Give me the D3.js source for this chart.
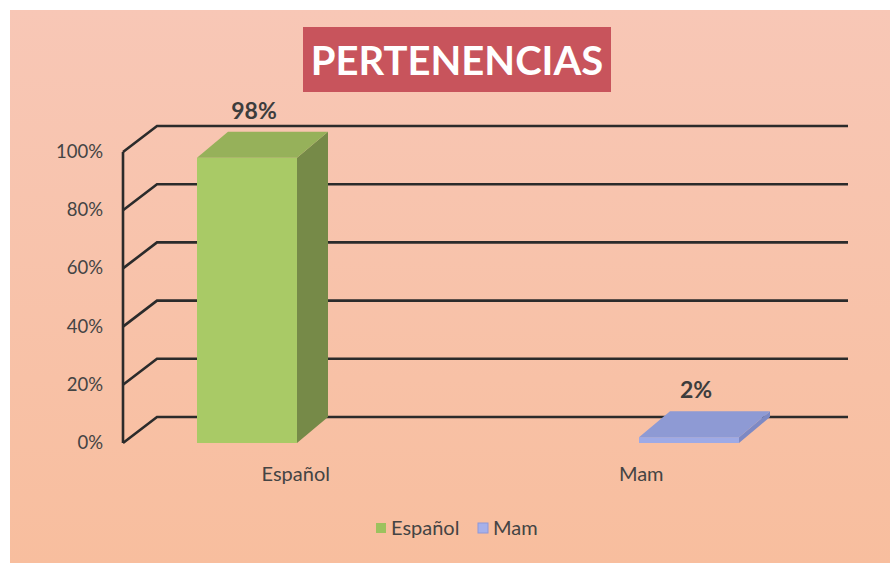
<!DOCTYPE html>
<html>
<head>
<meta charset="utf-8">
<script src="https://cdn.jsdelivr.net/npm/d3@7"></script>
<style>
  html, body { margin: 0; padding: 0; background: #ffffff; }
  svg { display: block; }
</style>
</head>
<body>
<div id="chart"></div>
<script>
// data
const categories = ['Español', 'Mam'];
const values = [0.98, 0.02];
const valueLabels = ['98%', '2%'];
const tickValues = [0, 0.2, 0.4, 0.6, 0.8, 1];
const tickLabels = ['0%', '20%', '40%', '60%', '80%', '100%'];
const colors = {
  'Español': { front: '#a9ca66', top: '#96b15a', side: '#768a48', swatch: '#9cc25e' },
  'Mam': { front: '#9eaae6', top: '#8e9ad4', side: '#7d89c4', swatch: '#a6b0ea' }
};

const W = 890, H = 563;
const svg = d3.select('#chart').append('svg')
  .attr('width', W)
  .attr('height', H);

// background gradient
const defs = svg.append('defs');
const bg = defs.append('linearGradient')
  .attr('id', 'bg')
  .attr('x1', 0).attr('y1', 0).attr('x2', 0).attr('y2', 1);
bg.append('stop').attr('offset', '0%').attr('stop-color', '#f8c7b6');
bg.append('stop').attr('offset', '100%').attr('stop-color', '#f8be9e');

svg.append('rect')
  .attr('x', 10).attr('y', 10)
  .attr('width', W - 10).attr('height', H - 10)
  .attr('fill', 'url(#bg)');

// title
svg.append('rect')
  .attr('x', 303).attr('y', 27)
  .attr('width', 308).attr('height', 65)
  .attr('fill', '#c8545c');
svg.append('text')
  .attr('x', 457).attr('y', 75)
  .attr('text-anchor', 'middle')
  .attr('fill', '#ffffff')
  .style('font-family', 'Lato, "Open Sans", sans-serif')
  .style('font-size', '40px')
  .style('font-weight', 'bold')
  .text('PERTENENCIAS');

// 3d frame: front plane and back wall offset
const depthX = 34, depthY = -26;
const y = d3.scaleLinear().domain([0, 1]).range([443, 152]);
const xFront = d3.scaleBand().domain(categories).range([123, 814]);
const xBar = d3.scalePoint().domain(categories).range([247, 689]);
const wallRight = 848;

const ink = '#2b2b2b';
const grid = svg.append('g');
grid.selectAll('path.grid')
  .data(tickValues)
  .join('path')
  .attr('class', 'grid')
  .attr('fill', 'none')
  .attr('stroke', ink)
  .attr('stroke-width', 2.6)
  .attr('d', d => `M${xFront.range()[0]},${y(d)}L${xFront.range()[0] + depthX},${y(d) + depthY}L${wallRight},${y(d) + depthY}`);
grid.append('line')
  .attr('x1', xFront.range()[0]).attr('x2', xFront.range()[0])
  .attr('y1', y(0)).attr('y2', y(1))
  .attr('stroke', ink)
  .attr('stroke-width', 2.6);

// tick labels
svg.append('g').selectAll('text')
  .data(tickValues)
  .join('text')
  .attr('x', 103)
  .attr('y', d => y(d) + 6)
  .attr('text-anchor', 'end')
  .attr('fill', '#444')
  .style('font-family', 'Lato, "Open Sans", sans-serif')
  .style('font-size', '18.5px')
  .text((d, i) => tickLabels[i]);

// bars
const barW = 100, barDX = 31, barDY = -26;
const bars = svg.append('g').selectAll('g')
  .data(categories.map((c, i) => ({ c, v: values[i], label: valueLabels[i] })))
  .join('g');

bars.each(function (d) {
  const g = d3.select(this);
  const x0 = xBar(d.c) - barW / 2, x1 = x0 + barW;
  const yb = y(0), yt = y(d.v);
  const col = colors[d.c];
  // side
  g.append('path')
    .attr('fill', col.side)
    .attr('d', `M${x1},${yt}L${x1 + barDX},${yt + barDY}L${x1 + barDX},${yb + barDY}L${x1},${yb}Z`);
  // front
  g.append('rect')
    .attr('x', x0).attr('y', yt)
    .attr('width', barW).attr('height', yb - yt)
    .attr('fill', col.front);
  // top
  g.append('path')
    .attr('fill', col.top)
    .attr('d', `M${x0},${yt}L${x0 + barDX},${yt + barDY}L${x1 + barDX},${yt + barDY}L${x1},${yt}Z`);
  // value label
  g.append('text')
    .attr('x', xBar(d.c) + 7)
    .attr('y', yt + barDY - 13)
    .attr('text-anchor', 'middle')
    .attr('fill', '#3d3d3d')
    .style('font-family', 'Lato, "Open Sans", sans-serif')
    .style('font-size', '23px')
    .style('font-weight', 'bold')
    .text(d.label);
});

// category labels
svg.append('g').selectAll('text')
  .data(categories)
  .join('text')
  .attr('x', d => xFront(d) + xFront.bandwidth() / 2)
  .attr('y', 481)
  .attr('text-anchor', 'middle')
  .attr('fill', '#444')
  .style('font-family', 'Lato, "Open Sans", sans-serif')
  .style('font-size', '20px')
  .text(d => d);

// legend
const legendX = d3.scaleOrdinal().domain(categories).range([376, 478]);
const legend = svg.append('g').selectAll('g')
  .data(categories)
  .join('g')
  .attr('transform', d => `translate(${legendX(d)},523)`);
legend.append('rect')
  .attr('width', 10).attr('height', 10)
  .attr('fill', d => colors[d].swatch)
  .attr('stroke', d => d === 'Mam' ? '#8e98d8' : 'none');
legend.append('text')
  .attr('x', 15).attr('y', 12)
  .attr('fill', '#444')
  .style('font-family', 'Lato, "Open Sans", sans-serif')
  .style('font-size', '20px')
  .text(d => d);
</script>
</body>
</html>
